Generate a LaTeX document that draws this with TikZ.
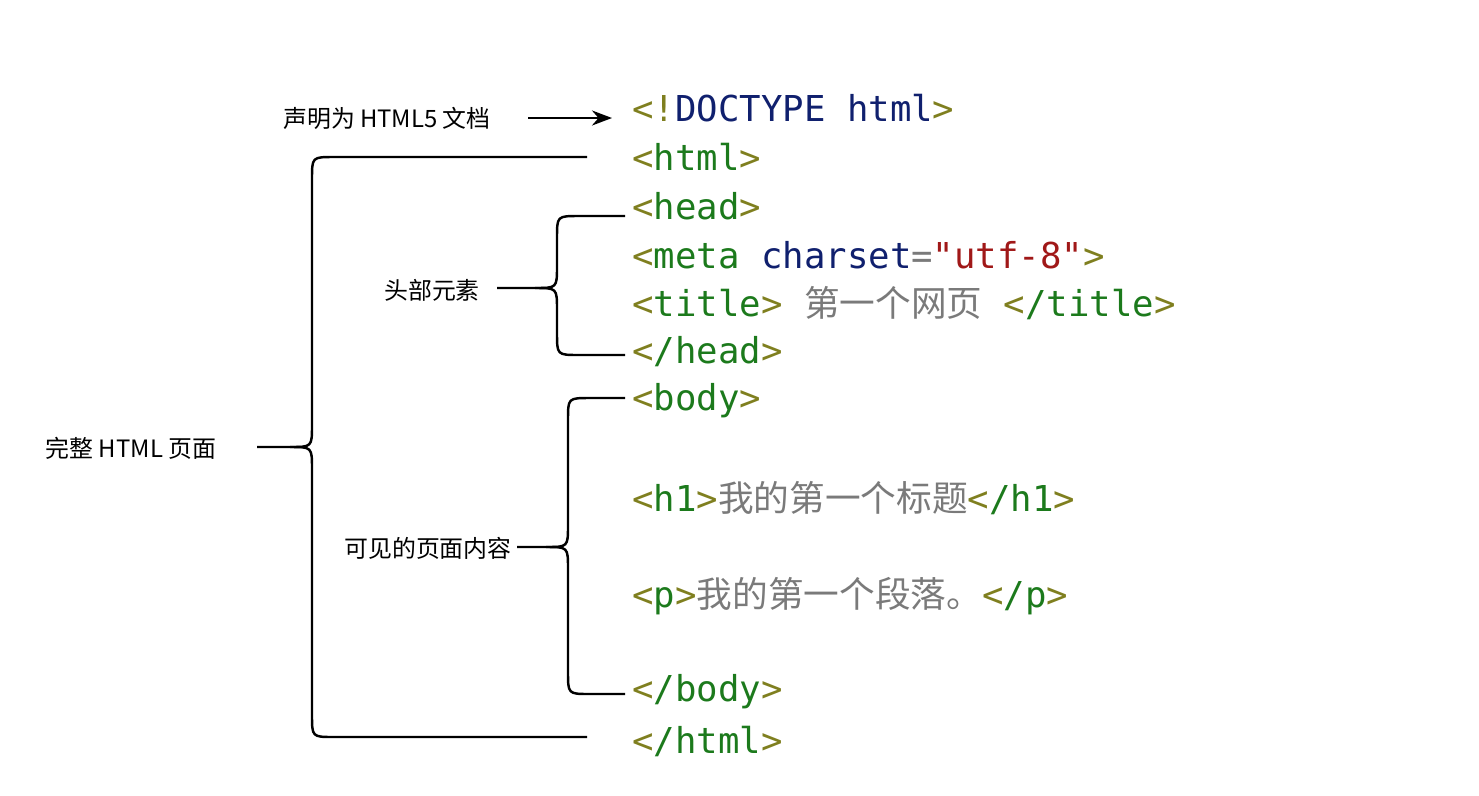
\documentclass[tikz,border=0pt]{standalone}
\usepackage{fontspec}
\setmainfont{Noto Sans CJK SC}
\setmonofont{DejaVu Sans Mono}
\newfontfamily\cjk{Noto Sans CJK SC}
\usetikzlibrary{arrows.meta,positioning}
\definecolor{tagbr}{HTML}{7F7F1F}
\definecolor{tagnm}{HTML}{1C7A1C}
\definecolor{kwd}{HTML}{10206E}
\definecolor{strg}{HTML}{A01818}
\definecolor{txt}{HTML}{7A7A7A}
\newcommand{\tglt}{\textcolor{tagbr}{<}}
\newcommand{\tggt}{\textcolor{tagbr}{>}}
\newcommand{\tg}[1]{\textcolor{tagnm}{#1}}
\newcommand{\tx}[1]{\textcolor{txt}{{\cjk #1}}}

\begin{document}
\begin{tikzpicture}[x=0.02cm,y=-0.02cm,
                    code/.style={anchor=west, inner sep=0pt, font=\ttfamily\fontsize{20.3}{24}\selectfont},
                    lbl/.style={inner sep=1pt, font=\cjk\fontsize{13.6}{16}\selectfont},
                    brace/.style={line width=1.4pt}]
    \useasboundingbox (0,0) rectangle (1479,795);

    % code lines
    \node[code] (doc)   at (632,108) {\tglt\textcolor{tagbr}{!}\textcolor{kwd}{DOCTYPE html}\tggt};
    \node[code] (html)  at (632,157) {\tglt\tg{html}\tggt};
    \node[code] (head)  at (632,206) {\tglt\tg{head}\tggt};
    \node[code] (meta)  at (632,255) {\tglt\tg{meta} \textcolor{kwd}{charset}\textcolor{txt}{=}\textcolor{strg}{"utf-8"}\tggt};
    \node[code] (title) at (632,303) {\tglt\tg{title}\tggt{} \tx{第一个网页} \tglt\tg{/title}\tggt};
    \node[code] (ehead) at (632,352) {\tglt\tg{/head}\tggt};
    \node[code] (body)  at (632,401) {\tglt\tg{body}\tggt};
    \node[code] (hone)  at (632,498) {\tglt\tg{h1}\tggt\tx{我的第一个标题}\tglt\tg{/h1}\tggt};
    \node[code] (para)  at (632,596) {\tglt\tg{p}\tggt\tx{我的第一个段落。}\tglt\tg{/p}\tggt};
    \node[code] (ebody) at (632,692) {\tglt\tg{/body}\tggt};
    \node[code] (ehtml) at (632,741) {\tglt\tg{/html}\tggt};

    % labels
    \node[lbl] (decl)  at (387,118) {声明为 HTML5 文档};
    \node[lbl] (hdlbl) at (432,290) {头部元素};
    \node[lbl] (bdlbl) at (428,548) {可见的页面内容};
    \node[lbl] (pglbl) at (131,448) {完整 HTML 页面};

    % arrow
    \coordinate (arrS) at (528,118);
    \coordinate (arrE) at (612,118);
    \draw[-{Stealth[length=4mm,width=3mm]}, line width=1.4pt] (arrS) -- (arrE);

    % braces
    \coordinate (pgT) at (587,157);
    \coordinate (pgB) at (587,737);
    \coordinate (pgM) at (257,447);
    \draw[brace] (pgT) -- (334,157) .. controls (312,157) .. (312,179) -- (312,425)
        .. controls (312,447) .. (290,447) -- (pgM);
    \draw[brace] (pgB) -- (334,737) .. controls (312,737) .. (312,715) -- (312,469)
        .. controls (312,447) .. (290,447);

    \coordinate (hdT) at (625,216);
    \coordinate (hdB) at (625,355);
    \coordinate (hdM) at (497,288);
    \draw[brace] (hdT) -- (579,216) .. controls (557,216) .. (557,238) -- (557,266)
        .. controls (557,288) .. (535,288) -- (hdM);
    \draw[brace] (hdB) -- (579,355) .. controls (557,355) .. (557,333) -- (557,310)
        .. controls (557,288) .. (535,288);

    \coordinate (bdT) at (625,398);
    \coordinate (bdB) at (625,694);
    \coordinate (bdM) at (517,547);
    \draw[brace] (bdT) -- (590,398) .. controls (568,398) .. (568,420) -- (568,525)
        .. controls (568,547) .. (546,547) -- (bdM);
    \draw[brace] (bdB) -- (590,694) .. controls (568,694) .. (568,672) -- (568,569)
        .. controls (568,547) .. (546,547);
\end{tikzpicture}
\end{document}
